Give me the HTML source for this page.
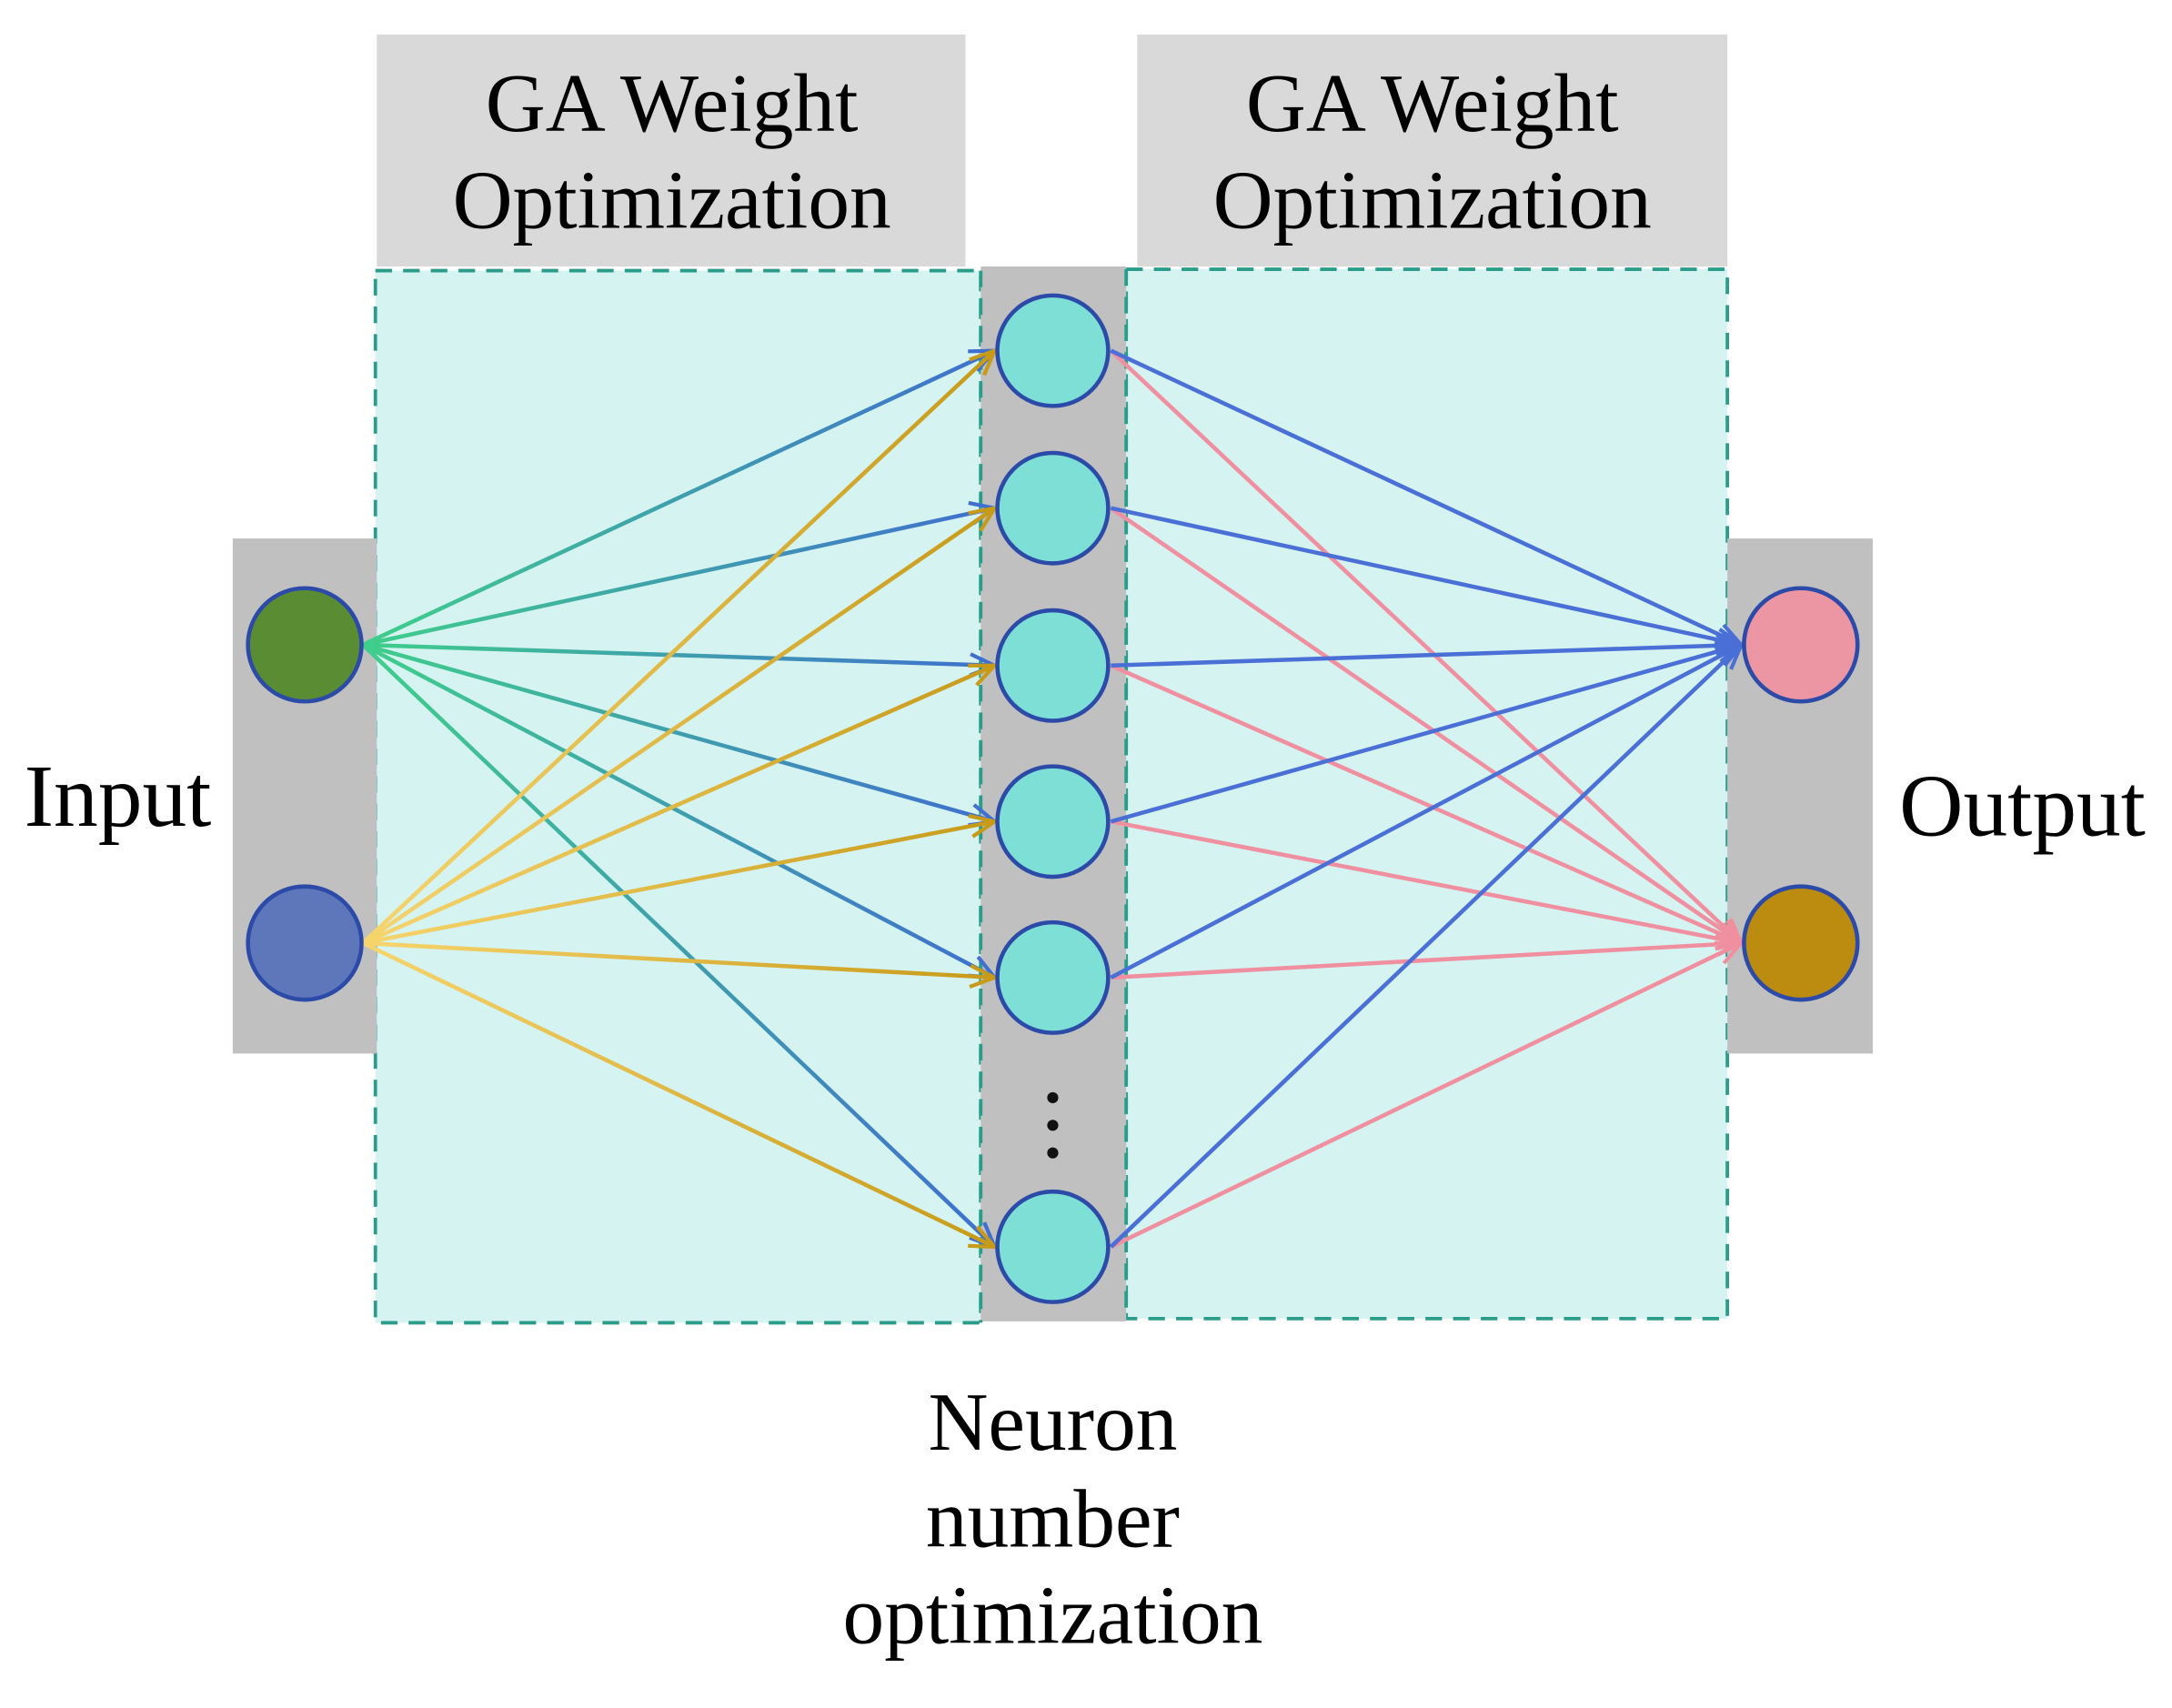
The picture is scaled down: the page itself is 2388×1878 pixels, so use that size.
<!DOCTYPE html>
<html><head><meta charset="utf-8"><style>html,body{margin:0;padding:0;background:#fff}svg{display:block}</style></head>
<body>
<svg width="2388" height="1878" viewBox="0 0 1568 1237" preserveAspectRatio="none" xmlns="http://www.w3.org/2000/svg" font-family="Liberation Serif, serif">
<defs>
<linearGradient id="gL" gradientUnits="userSpaceOnUse" x1="262" y1="0" x2="718" y2="0"><stop offset="0" stop-color="#3fcf8a"/><stop offset="1" stop-color="#3f6fd0"/></linearGradient>
<linearGradient id="yL" gradientUnits="userSpaceOnUse" x1="262" y1="0" x2="718" y2="0"><stop offset="0" stop-color="#f7d56e"/><stop offset="1" stop-color="#c79a18"/></linearGradient>
<marker id="mB" viewBox="0 0 20 20" refX="18" refY="10" markerWidth="22" markerHeight="22" markerUnits="userSpaceOnUse" orient="auto"><path d="M2,3 L18,10 L2,17" fill="none" stroke="#3f6fd0" stroke-width="2.5"/></marker>
<marker id="mY" viewBox="0 0 20 20" refX="18" refY="10" markerWidth="22" markerHeight="22" markerUnits="userSpaceOnUse" orient="auto"><path d="M2,3 L18,10 L2,17" fill="none" stroke="#c79a18" stroke-width="2.5"/></marker>
<marker id="mB2" viewBox="0 0 20 20" refX="18" refY="10" markerWidth="22" markerHeight="22" markerUnits="userSpaceOnUse" orient="auto"><path d="M2,3 L18,10 L2,17" fill="none" stroke="#4a6fd6" stroke-width="2.5"/></marker>
<marker id="mP" viewBox="0 0 20 20" refX="18" refY="10" markerWidth="22" markerHeight="22" markerUnits="userSpaceOnUse" orient="auto"><path d="M2,3 L18,10 L2,17" fill="none" stroke="#f08fa0" stroke-width="2.5"/></marker>
</defs>
<rect x="272" y="25" width="425" height="168" fill="#d9d9d9"/>
<rect x="821" y="25" width="426" height="168" fill="#d9d9d9"/>
<rect x="271" y="196" width="437" height="762" fill="#d5f3f0" stroke="#2a9d8a" stroke-width="2.5" stroke-dasharray="12,8"/>
<rect x="813" y="195" width="434" height="760" fill="#d5f3f0" stroke="#2a9d8a" stroke-width="2.5" stroke-dasharray="12,8"/>
<rect x="708" y="193" width="105" height="764" fill="#c0c0c0"/>
<line x1="708" y1="196" x2="708" y2="958" stroke="#2a9d8a" stroke-width="2.5" stroke-dasharray="12,8"/>
<line x1="813" y1="195" x2="813" y2="955" stroke="#2a9d8a" stroke-width="2.5" stroke-dasharray="12,8"/>
<rect x="168" y="390" width="104" height="373" fill="#c0c0c0"/>
<rect x="1247" y="390" width="105" height="373" fill="#c0c0c0"/>
<g stroke-width="3" fill="none">
<g stroke="url(#gL)" marker-end="url(#mB)">
<line x1="262" y1="467" x2="718" y2="254"/><line x1="262" y1="467" x2="718" y2="368"/><line x1="262" y1="467" x2="718" y2="482"/><line x1="262" y1="467" x2="718" y2="595"/><line x1="262" y1="467" x2="718" y2="708"/><line x1="262" y1="467" x2="718" y2="903"/>
</g>
<g stroke="url(#yL)" marker-end="url(#mY)">
<line x1="262" y1="683" x2="718" y2="254"/><line x1="262" y1="683" x2="718" y2="368"/><line x1="262" y1="683" x2="718" y2="482"/><line x1="262" y1="683" x2="718" y2="595"/><line x1="262" y1="683" x2="718" y2="708"/><line x1="262" y1="683" x2="718" y2="903"/>
</g>
<g stroke="#f08fa0" marker-end="url(#mP)">
<line x1="802" y1="254" x2="1257" y2="683"/><line x1="802" y1="368" x2="1257" y2="683"/><line x1="802" y1="482" x2="1257" y2="683"/><line x1="802" y1="595" x2="1257" y2="683"/><line x1="802" y1="708" x2="1257" y2="683"/><line x1="802" y1="903" x2="1257" y2="683"/>
</g>
<g stroke="#4a6fd6" marker-end="url(#mB2)">
<line x1="802" y1="254" x2="1257" y2="467"/><line x1="802" y1="368" x2="1257" y2="467"/><line x1="802" y1="482" x2="1257" y2="467"/><line x1="802" y1="595" x2="1257" y2="467"/><line x1="802" y1="708" x2="1257" y2="467"/><line x1="802" y1="903" x2="1257" y2="467"/>
</g>
</g>
<g stroke="#2c4aa8" stroke-width="3">
<circle cx="220" cy="467" r="41" fill="#5a8c33"/>
<circle cx="220" cy="683" r="41" fill="#5e76ba"/>
<circle cx="760" cy="254" r="40" fill="#7ddfd6"/>
<circle cx="760" cy="368" r="40" fill="#7ddfd6"/>
<circle cx="760" cy="482" r="40" fill="#7ddfd6"/>
<circle cx="760" cy="595" r="40" fill="#7ddfd6"/>
<circle cx="760" cy="708" r="40" fill="#7ddfd6"/>
<circle cx="760" cy="903" r="40" fill="#7ddfd6"/>
<circle cx="1300" cy="467" r="41" fill="#ec96a3"/>
<circle cx="1300" cy="683" r="41" fill="#bb8c10"/>
</g>
<circle cx="760" cy="795" r="4" fill="#111"/><circle cx="760" cy="815" r="4" fill="#111"/><circle cx="760" cy="835" r="4" fill="#111"/>
<g font-size="60" fill="#000" text-anchor="middle">
<text x="485" y="95">GA Weight</text>
<text x="485" y="165">Optimization</text>
<text x="1034" y="95">GA Weight</text>
<text x="1034" y="165">Optimization</text>
<text x="85" y="598" font-size="64">Input</text>
<text x="1460" y="605" font-size="64">Output</text>
<text x="760" y="1050">Neuron</text>
<text x="760" y="1120">number</text>
<text x="760" y="1190">optimization</text>
</g>
</svg>
</body></html>
